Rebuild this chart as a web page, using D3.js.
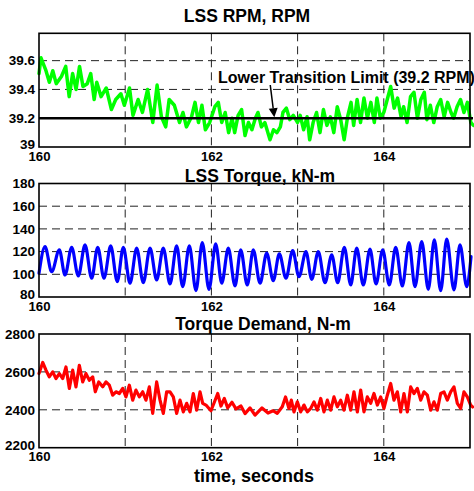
<!DOCTYPE html>
<html><head><meta charset="utf-8">
<script src="https://cdn.jsdelivr.net/npm/d3@7"></script>
<style>
body{margin:0;background:#fff}
svg{display:block}
text{font-family:Arial,"Liberation Sans",Helvetica,sans-serif;font-weight:bold;fill:#000}
</style>
</head><body>
<svg id="chart" width="474" height="491"></svg>
<script>
// ---------- data (time in seconds, value) ----------
const timeTickLabels = [160, 162, 164];
const timeGrid = [161, 162, 163, 164];

const rpmTicks = [39, 39.2, 39.4, 39.6];
const torqueTicks = [80, 100, 120, 140, 160, 180];
const demandTicks = [2200, 2400, 2600, 2800];

const lowerLimit = 39.2;
const annotationText = "Lower Transition Limit (39.2 RPM)";
const titles = ["LSS RPM, RPM", "LSS Torque, kN-m", "Torque Demand, N-m"];
const xLabel = "time, seconds";

const rpmData = [
[160.000,39.51],[160.023,39.62],[160.081,39.53],[160.12,39.45],[160.16,39.53],[160.20,39.44],[160.26,39.49],[160.31,39.56],[160.35,39.35],[160.39,39.51],
[160.43,39.40],[160.47,39.56],[160.51,39.42],[160.56,39.44],[160.60,39.51],[160.64,39.33],[160.67,39.45],[160.72,39.35],[160.78,39.41],[160.84,39.26],
[160.89,39.33],[160.95,39.37],[160.99,39.29],[161.05,39.41],[161.09,39.22],[161.15,39.33],[161.20,39.24],[161.26,39.40],[161.32,39.17],[161.37,39.43],
[161.42,39.21],[161.47,39.14],[161.51,39.33],[161.57,39.29],[161.63,39.17],[161.67,39.24],[161.71,39.14],[161.77,39.21],[161.81,39.31],[161.85,39.17],
[161.89,39.29],[161.93,39.12],[161.98,39.17],[162.04,39.28],[162.08,39.31],[162.12,39.17],[162.16,39.24],[162.20,39.10],[162.24,39.20],[162.27,39.10],
[162.31,39.22],[162.35,39.26],[162.39,39.08],[162.43,39.17],[162.47,39.12],[162.51,39.20],[162.54,39.24],[162.58,39.14],[162.62,39.17],[162.68,39.05],
[162.72,39.12],[162.76,39.10],[162.80,39.14],[162.83,39.24],[162.87,39.27],[162.91,39.19],[162.95,39.22],[163.00,39.17],[163.03,39.22],[163.07,39.12],
[163.11,39.21],[163.14,39.05],[163.18,39.17],[163.22,39.24],[163.26,39.10],[163.30,39.26],[163.34,39.15],[163.38,39.21],[163.42,39.10],[163.46,39.28],
[163.50,39.19],[163.54,39.05],[163.58,39.21],[163.62,39.31],[163.65,39.15],[163.69,39.33],[163.73,39.17],[163.77,39.34],[163.81,39.20],[163.85,39.31],
[163.89,39.17],[163.92,39.34],[163.96,39.20],[164.00,39.24],[164.04,39.33],[164.08,39.42],[164.12,39.27],[164.16,39.34],[164.20,39.21],[164.23,39.28],
[164.27,39.17],[164.31,39.35],[164.35,39.38],[164.39,39.20],[164.43,39.33],[164.47,39.38],[164.50,39.19],[164.54,39.29],[164.58,39.17],[164.62,39.28],
[164.66,39.33],[164.70,39.21],[164.74,39.31],[164.78,39.24],[164.81,39.20],[164.85,39.28],[164.89,39.33],[164.93,39.24],[164.97,39.31],[165.01,39.17],
[165.04,39.15]
];

const torqueData = [
[160.000,100.9],[160.070,124.4],[160.147,102.3],[160.236,121.5],[160.302,99.4],[160.379,123.8],[160.456,98.5],[160.534,125.9],[160.611,96.5],[160.681,123.8],
[160.754,96.5],[160.832,125.0],[160.908,93.5],[160.978,123.8],[161.056,92.1],[161.133,123.0],[161.210,92.6],[161.288,123.0],[161.365,95.0],[161.442,123.0],
[161.520,91.5],[161.597,125.0],[161.667,89.1],[161.744,125.0],[161.821,85.6],[161.894,127.9],[161.972,86.8],[162.050,126.8],[162.120,92.1],[162.196,123.0],
[162.274,89.7],[162.340,121.5],[162.416,90.6],[162.486,121.5],[162.564,92.1],[162.642,118.6],[162.718,94.4],[162.788,118.0],[162.865,96.5],[162.943,120.9],
[163.016,97.9],[163.097,120.0],[163.164,95.6],[163.240,120.0],[163.318,92.6],[163.396,117.1],[163.465,92.6],[163.542,123.8],[163.616,90.6],[163.686,123.0],
[163.762,90.6],[163.840,122.1],[163.910,91.5],[163.987,121.5],[164.064,90.6],[164.138,123.8],[164.215,89.7],[164.292,127.9],[164.362,89.1],[164.440,128.8],
[164.516,86.8],[164.586,130.3],[164.660,85.6],[164.730,131.0],[164.814,86.2],[164.884,125.9],[164.962,89.1],[165.012,115.6]
];

const demandData = [
[160.000,2591],[160.043,2650],[160.081,2609],[160.119,2574],[160.159,2600],[160.197,2565],[160.236,2591],[160.275,2565],[160.313,2626],[160.352,2513],
[160.391,2609],[160.429,2521],[160.468,2635],[160.507,2547],[160.545,2591],[160.584,2556],[160.623,2574],[160.653,2495],[160.693,2547],[160.739,2521],
[160.777,2547],[160.816,2530],[160.855,2477],[160.893,2495],[160.932,2486],[160.971,2513],[161.009,2468],[161.048,2530],[161.087,2451],[161.125,2504],
[161.164,2468],[161.203,2495],[161.241,2451],[161.280,2521],[161.319,2381],[161.365,2547],[161.404,2451],[161.442,2381],[161.481,2495],[161.520,2495],
[161.558,2468],[161.597,2381],[161.636,2451],[161.674,2389],[161.713,2434],[161.752,2389],[161.790,2486],[161.829,2398],[161.868,2495],[161.899,2434],
[161.937,2425],[161.995,2395],[162.034,2440],[162.073,2486],[162.111,2420],[162.150,2460],[162.189,2410],[162.239,2440],[162.285,2405],[162.343,2420],
[162.390,2380],[162.448,2410],[162.506,2372],[162.587,2410],[162.657,2383],[162.715,2395],[162.764,2381],[162.822,2416],[162.860,2468],[162.900,2407],
[162.927,2451],[162.958,2389],[162.997,2442],[163.036,2389],[163.074,2425],[163.113,2389],[163.152,2407],[163.190,2442],[163.229,2398],[163.268,2460],
[163.306,2389],[163.345,2451],[163.384,2398],[163.422,2468],[163.461,2416],[163.500,2451],[163.538,2398],[163.577,2477],[163.616,2398],[163.654,2495],
[163.693,2389],[163.732,2504],[163.770,2389],[163.809,2468],[163.848,2434],[163.886,2486],[163.925,2425],[163.964,2468],[164.002,2407],[164.041,2477],
[164.080,2539],[164.118,2451],[164.157,2495],[164.196,2389],[164.234,2486],[164.273,2389],[164.312,2521],[164.350,2486],[164.389,2513],[164.428,2451],
[164.466,2495],[164.505,2477],[164.544,2398],[164.582,2442],[164.621,2398],[164.660,2486],[164.698,2495],[164.737,2451],[164.776,2495],[164.814,2521],
[164.853,2434],[164.892,2407],[164.930,2495],[164.969,2468],[165.008,2425],[165.03,2415]
];

// ---------- layout ----------
const svg = d3.select("#chart");
const left = 39, right = 470;
const x = d3.scaleLinear().domain([160, 165]).range([left, right]);

const panels = [
  {title: titles[0], tx: 247, ty: 22, top: 33.3, bottom: 147, domain: [39, 39.79], ticks: rpmTicks,
   data: rpmData, color: "#00ff00", width: 3.5, curve: d3.curveLinear, fmt: d => d3.format("")(d)},
  {title: titles[1], tx: 260, ty: 181.5, top: 183.5, bottom: 297, domain: [80, 180], ticks: torqueTicks,
   data: torqueData, color: "#0000ff", width: 3.2, curve: d3.curveMonotoneX, fmt: d => d},
  {title: titles[2], tx: 263, ty: 329.5, top: 334, bottom: 447.7, domain: [2200, 2800], ticks: demandTicks,
   data: demandData, color: "#ff0000", width: 3.2, curve: d3.curveLinear, fmt: d => d}
];

panels.forEach((p, i) => {
  const y = d3.scaleLinear().domain(p.domain).range([p.bottom, p.top]);
  const g = svg.append("g");

  // gridlines
  g.selectAll(".vg").data(timeGrid).join("line")
    .attr("x1", d => x(d)).attr("x2", d => x(d))
    .attr("y1", p.top).attr("y2", p.bottom)
    .attr("stroke", "#222").attr("stroke-width", 1).attr("stroke-dasharray", "8,5");
  g.selectAll(".hg").data(p.ticks.filter(t => t > p.domain[0] && t < p.domain[1] - 1e-9)).join("line")
    .attr("x1", left).attr("x2", right)
    .attr("y1", d => y(d)).attr("y2", d => y(d))
    .attr("stroke", "#222").attr("stroke-width", 1).attr("stroke-dasharray", "8,5");

  // series
  const line = d3.line().x(d => x(d[0])).y(d => y(d[1])).curve(p.curve);
  g.append("path").datum(p.data).attr("d", line)
    .attr("fill", "none").attr("stroke", p.color).attr("stroke-width", p.width)
    .attr("stroke-linejoin", "round").attr("stroke-linecap", "round");

  // limit line + annotation on first panel
  if (i === 0) {
    g.append("line").attr("x1", left).attr("x2", right + 3)
      .attr("y1", y(lowerLimit)).attr("y2", y(lowerLimit))
      .attr("stroke", "#000").attr("stroke-width", 2.6);
    const ax0 = x(162.683), ay0 = 85, ax1 = x(162.73), ay1 = y(lowerLimit) - 1;
    const ang = Math.atan2(ay1 - ay0, ax1 - ax0);
    const hl = 9, hw = 4.5;
    g.append("line").attr("x1", ax0).attr("y1", ay0)
      .attr("x2", ax1 - hl * Math.cos(ang)).attr("y2", ay1 - hl * Math.sin(ang))
      .attr("stroke", "#000").attr("stroke-width", 1.5);
    const bx = ax1 - hl * Math.cos(ang), by = ay1 - hl * Math.sin(ang);
    g.append("path")
      .attr("d", `M${ax1},${ay1}L${bx - hw * Math.sin(ang)},${by + hw * Math.cos(ang)}L${bx + hw * Math.sin(ang)},${by - hw * Math.cos(ang)}Z`)
      .attr("fill", "#000");
    g.append("text").attr("x", 218).attr("y", 82.7)
      .attr("font-size", 16).text(annotationText);
  }

  // frame
  g.append("rect").attr("x", left).attr("y", p.top)
    .attr("width", right - left).attr("height", p.bottom - p.top)
    .attr("fill", "none").attr("stroke", "#000").attr("stroke-width", 1.6);

  // y axis labels
  const ya = d3.axisLeft(y).tickValues(p.ticks).tickSize(0).tickPadding(4).tickFormat(p.fmt);
  const yg = svg.append("g").attr("transform", `translate(${left},0)`).call(ya);
  yg.select(".domain").remove();
  yg.selectAll("text").attr("font-size", 13.5)
    .attr("dy", d => d === p.domain[0] ? "0.1em" : "0.32em");
  yg.attr("font-family", null).attr("font-size", null);

  // x axis labels
  const xa = d3.axisBottom(x).tickValues(timeTickLabels).tickSize(0).tickPadding(4.2).tickFormat(d3.format("d"));
  const xg = svg.append("g").attr("transform", `translate(0,${p.bottom})`).call(xa);
  xg.select(".domain").remove();
  xg.selectAll("text").attr("font-size", 13.2);
  xg.attr("font-family", null).attr("font-size", null);

  // title
  svg.append("text").attr("x", p.tx).attr("y", p.ty).attr("text-anchor", "middle")
    .attr("font-size", 17.5).text(p.title);
});

svg.append("text").attr("x", 254).attr("y", 482).attr("text-anchor", "middle")
  .attr("font-size", 18).text(xLabel);
</script>
</body></html>
